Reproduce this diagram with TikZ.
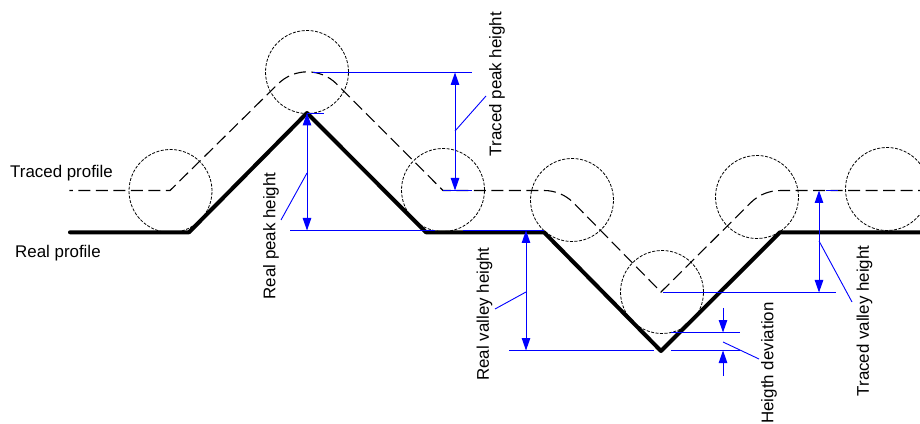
\documentclass[tikz,border=0pt]{standalone}
\usepackage{fontspec}
\setmainfont{Liberation Sans}
\usetikzlibrary{arrows.meta}
\definecolor{dimblue}{rgb}{0,0,1}
\tikzset{
	real/.style={line width=4pt, line join=round, line cap=round},
	traced/.style={line width=1.1pt, dash pattern=on 12pt off 5.5pt, dash phase=8.5pt},
	roller/.style={line width=0.8pt, dash pattern=on 3pt off 1.5pt},
	dim/.style={dimblue, line width=1.2pt},
	leader/.style={dimblue, line width=0.9pt},
	dimarrow/.style={dimblue, line width=1pt, {Triangle[length=12.5pt,width=8.5pt]}-{Triangle[length=12.5pt,width=8.5pt]}},
	dimpoint/.style={dimblue, line width=1pt, -{Triangle[length=12.5pt,width=8.5pt]}},
	label/.style={inner sep=0pt, font=\fontsize{16.9}{18}\selectfont},
	vlabel/.style={label, rotate=90}
}
\begin{document}
\begin{tikzpicture}[x=1pt,y=1pt]
	\useasboundingbox (0,0) rectangle (920,423);
	%%%%% ROLLER %%%%%
	\draw[roller] (170.5,232) circle (41.5);
	\draw[roller] (307,351) circle (41.5);
	\draw[roller] (443,233) circle (41.5);
	\draw[roller] (572,223) circle (41.5);
	\draw[roller] (662,131) circle (41.5);
	\draw[roller] (757,226) circle (41.5);
	\draw[roller] (887,234) circle (41.5);
	%%%%% TRACED %%%%%
	\draw[traced] (69.3,232.5) -- (170,232.5) -- (278,339)
		arc (135:45:41.5) -- (443,232.5) -- (544,232.5) arc (90:45:41.5)
		-- (661,131) -- (750.7,220.3) arc (135:90:41.5) -- (920,232.5);
	%%%%% REAL %%%%%
	\draw[real] (70,190.7) -- (189,190.7) -- (307,310) -- (426,190.7) -- (544,190.7)
		-- (661,72) -- (780,190.7) -- (920,190.7);
	%%%%% BLUE %%%%%
	\draw[dim] (313,350.5) -- (472,350.5);
	\draw[dim] (443,232.5) -- (472,232.5);
	\draw[dimarrow] (455,350.5) -- (455,232.5);
	\draw[leader] (455,292) -- (486,327);
	\draw[dim] (290,192.5) -- (435,192.5);
	\draw[dim] (307,309.5) -- (324,309.5);
	\draw[dimarrow] (307,310) -- (307,192.5);
	\draw[leader] (307,250) -- (281,203);
	\draw[dim] (463,192.5) -- (544,192.5);
	\draw[dim] (509,72.5) -- (654,72.5);
	\draw[dim] (671,72.5) -- (740,72.5);
	\draw[dimarrow] (526,192.5) -- (526,72.5);
	\draw[leader] (526,131) -- (495,114);
	\draw[dim] (671,90.5) -- (740,90.5);
	\draw[dimpoint] (723,115) -- (723,90.5);
	\draw[dimpoint] (723,47) -- (723,72.5);
	\draw[leader] (723,81) -- (759,64);
	\draw[dim] (663,130.5) -- (836,130.5);
	\draw[dim] (826,232.5) -- (838,232.5);
	\draw[dimarrow] (819,232.5) -- (819,130.5);
	\draw[leader] (819,182) -- (852,121);
	%%%%% TEXT %%%%%
	\node[label, anchor=west] (tracedlabel) at (10,249.5) {Traced profile};
	\node[label, anchor=west] (reallabel) at (15,169.5) {Real profile};
	\node[vlabel] (tracedpeak) at (497,339) {Traced peak height};
	\node[vlabel] (realpeak) at (271,187) {Real peak height};
	\node[vlabel] (realvalley) at (484.5,109) {Real valley height};
	\node[vlabel] (deviation) at (769,60) {Heigth deviation};
	\node[vlabel] (tracedvalley) at (864.5,102) {Traced valley height};
\end{tikzpicture}
\end{document}
